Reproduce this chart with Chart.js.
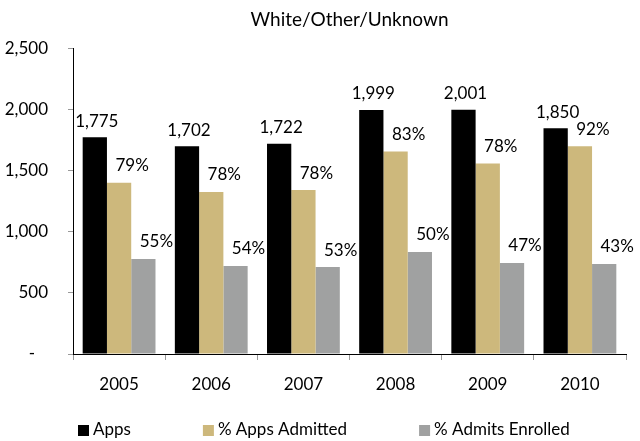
<!DOCTYPE html>
<html>
<head>
<meta charset="utf-8">
<script src="https://cdn.jsdelivr.net/npm/chart.js@4.4.0/dist/chart.umd.min.js"></script>
<style>
html, body { margin: 0; padding: 0; background: #fff; }
</style>
</head>
<body>
<canvas id="myChart" width="640" height="441"></canvas>
<script>
var years = ["2005", "2006", "2007", "2008", "2009", "2010"];
var apps = [1775, 1702, 1722, 1999, 2001, 1850];
var admitted = [1402, 1328, 1343, 1659, 1561, 1702];
var enrolled = [779, 721, 712, 836, 746, 738];
var admitPct = [79, 78, 78, 83, 78, 92];
var enrollPct = [55, 54, 53, 50, 47, 43];
var yMin = 0, yMax = 2500, yStep = 500;

var FONT = 'Lato, "Open Sans", sans-serif';

// value labels above the bars
var barLabels = {
  id: 'barLabels',
  afterDatasetsDraw: function(chart) {
    var ctx = chart.ctx;
    ctx.save();
    ctx.font = '17px ' + FONT;
    ctx.fillStyle = '#000';
    ctx.textAlign = 'center';
    ctx.textBaseline = 'middle';
    chart.data.datasets.forEach(function(ds, i) {
      var meta = chart.getDatasetMeta(i);
      meta.data.forEach(function(bar, j) {
        var dx = i === 0 ? 2 : 13;
        var dy = i === 0 ? -16 : -17;
        ctx.fillText(ds.valueText[j], bar.x + dx, bar.y + dy);
      });
    });
    ctx.restore();
  }
};

// excel-like legend along the bottom
var bottomLegend = {
  id: 'bottomLegend',
  afterDraw: function(chart) {
    var ctx = chart.ctx;
    var x = chart.chartArea.left + 5;
    var y = 430;
    ctx.save();
    ctx.font = '17px ' + FONT;
    ctx.textBaseline = 'middle';
    ctx.textAlign = 'left';
    chart.data.datasets.forEach(function(ds) {
      ctx.fillStyle = ds.backgroundColor;
      ctx.fillRect(x, y - 5, 11, 11);
      ctx.fillStyle = '#000';
      ctx.fillText(ds.label, x + 15, y);
      x += 15 + ctx.measureText(ds.label).width + 72;
    });
    ctx.restore();
  }
};

var ctx = document.getElementById('myChart').getContext('2d');
var chart = new Chart(ctx, {
  type: 'bar',
  data: {
    labels: years,
    datasets: [
      { label: 'Apps', data: apps, backgroundColor: '#000000',
        valueText: apps.map(function(v) { return v.toLocaleString('en-US'); }) },
      { label: '% Apps Admitted', data: admitted, backgroundColor: '#CDB87C',
        valueText: admitPct.map(function(v) { return v + '%'; }) },
      { label: '% Admits Enrolled', data: enrolled, backgroundColor: '#A0A1A1',
        valueText: enrollPct.map(function(v) { return v + '%'; }) }
    ]
  },
  options: {
    responsive: false,
    animation: false,
    devicePixelRatio: 1,
    layout: { padding: { left: 0, right: 14, top: 0, bottom: 36 } },
    datasets: { bar: { categoryPercentage: 0.79, barPercentage: 1.0 } },
    plugins: {
      legend: { display: false },
      tooltip: { enabled: false },
      title: {
        display: true,
        text: 'White/Other/Unknown',
        fullSize: false,
        color: '#000',
        font: { family: FONT, size: 19, weight: 'normal' },
        padding: { top: 8, bottom: 18 }
      }
    },
    scales: {
      x: {
        grid: { offset: true, drawOnChartArea: false, tickLength: 6, color: '#999' },
        border: { color: '#000', width: 1 },
        ticks: { color: '#000', font: { family: FONT, size: 17 }, padding: 14, maxRotation: 0 },
        afterFit: function(s) { s.height = 51; }
      },
      y: {
        min: yMin, max: yMax,
        grid: { drawOnChartArea: false, tickLength: 5, color: '#999' },
        border: { color: '#000', width: 1 },
        ticks: {
          stepSize: yStep, color: '#000', padding: 20,
          font: { family: FONT, size: 17 },
          callback: function(v) { return v === 0 ? '-   ' : v.toLocaleString('en-US'); }
        },
        afterFit: function(s) { s.width = 73; }
      }
    }
  },
  plugins: [barLabels, bottomLegend]
});
</script>
</body>
</html>
